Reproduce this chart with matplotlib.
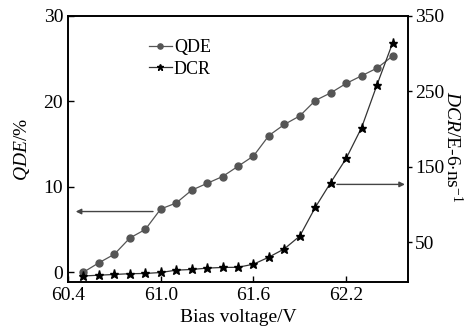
import matplotlib
matplotlib.use("Agg")
import matplotlib.pyplot as plt

plt.rcParams['font.family'] = ['Liberation Serif', 'DejaVu Serif']
plt.rcParams['mathtext.fontset'] = 'custom'
plt.rcParams['mathtext.rm'] = 'Liberation Serif'
plt.rcParams['mathtext.it'] = 'Liberation Serif:italic'

# data
bias = [60.5, 60.6, 60.7, 60.8, 60.9, 61.0, 61.1, 61.2, 61.3, 61.4, 61.5,
        61.6, 61.7, 61.8, 61.9, 62.0, 62.1, 62.2, 62.3, 62.4, 62.5]
qde = [0.0, 1.1, 2.1, 4.0, 5.0, 7.4, 8.1, 9.6, 10.4, 11.2, 12.4,
       13.6, 16.0, 17.3, 18.3, 20.1, 21.0, 22.1, 23.0, 23.9, 25.3]
dcr = [5, 6, 7, 8, 8.3, 9.6, 12.7, 13.6, 15.4, 16.3, 16.5,
       20.6, 30, 41, 58, 96, 129, 161, 202, 259, 314]
xticks = [60.4, 61.0, 61.6, 62.2]
left_ticks = [0, 10, 20, 30]
right_ticks = [50, 150, 250, 350]

fig = plt.figure(figsize=(4.73, 3.29), dpi=100)
ax = fig.add_axes([0.1438, 0.1429, 0.7188, 0.8085])
ax2 = ax.twinx()

ax.plot(bias, qde, '-o', color='#555555', lw=0.9, ms=5, mfc='#555555',
        mec='#555555', label='QDE')
ax2.plot(bias, dcr, '-*', color='#333333', lw=0.9, ms=6.5, mfc='black',
         mec='black', label='DCR')
# dummy handle so both entries show in one legend
ax.plot([], [], '-*', color='#333333', lw=0.9, ms=6.5, mfc='black',
        mec='black', label='DCR')

ax.set_xlim(60.4, 62.6)
ax.set_ylim(-1.15, 30)
ax2.set_ylim(-3, 350)
ax.set_xticks(xticks)
ax.set_xticklabels([f'{v:.1f}' for v in xticks])
ax.set_yticks(left_ticks)
ax2.set_yticks(right_ticks)

ax.tick_params(axis='both', direction='in', labelsize=14, length=4, width=1)
ax2.tick_params(axis='y', direction='out', labelsize=14, length=3, width=1, pad=2)

for a in (ax, ax2):
    for s in a.spines.values():
        s.set_linewidth(1.2)

# axis titles placed explicitly
fig.text(238 / 473, 1 - 318 / 329, 'Bias voltage/V', fontsize=14,
         ha='center', va='center')
fig.text(22 / 473, 1 - 150 / 329, r'$\mathit{QDE}$/%', fontsize=14,
         ha='center', va='center', rotation=90)
fig.text(452 / 473, 1 - 147 / 329, r'$\mathit{DCR}$/E-6$\cdot$ns$^{-1}$',
         fontsize=14, ha='center', va='center', rotation=270)

# arrows pointing to the axes
ax.annotate('', xy=(60.45, 7.1), xytext=(60.95, 7.1),
            arrowprops=dict(arrowstyle='-|>', color='#444444', lw=1,
                            mutation_scale=8, shrinkA=0, shrinkB=0))
ax2.annotate('', xy=(62.58, 126.5), xytext=(62.14, 126.5),
             arrowprops=dict(arrowstyle='-|>', color='#444444', lw=1,
                             mutation_scale=8, shrinkA=0, shrinkB=0))

ax.legend(loc='upper left', bbox_to_anchor=(0.2, 0.96), frameon=False,
          fontsize=13, handlelength=1.3, handletextpad=0.1,
          labelspacing=0.25, borderpad=0.2, markerscale=0.75)

fig.savefig('out.png', dpi=100)
